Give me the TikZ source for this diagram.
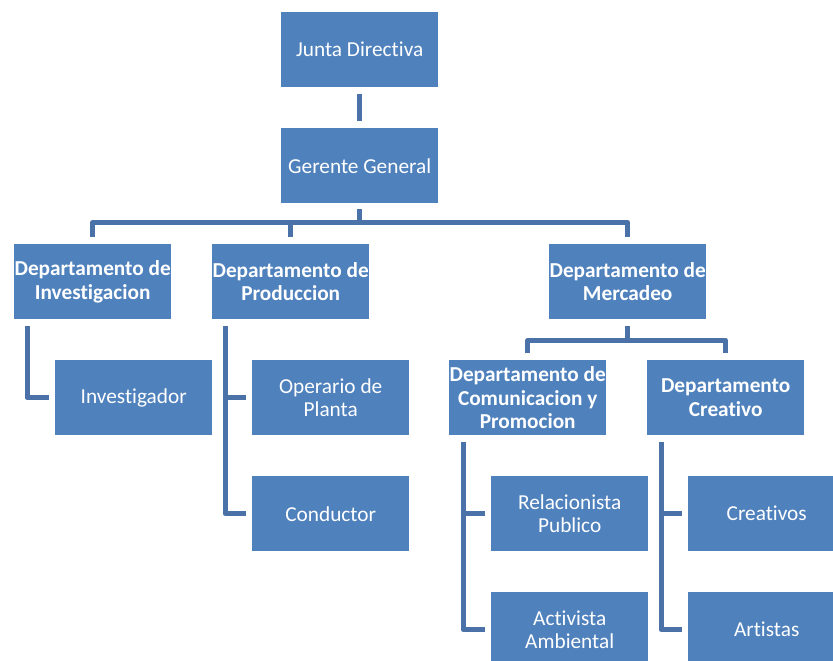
\documentclass[tikz,border=0pt]{standalone}
\usepackage{fontspec}
\setmainfont[Ligatures=NoCommon]{Carlito}
\definecolor{boxblue}{HTML}{4F81BD}
\definecolor{lineblue}{HTML}{4A72A8}
\begin{document}
\begin{tikzpicture}[x=1pt,y=-1pt,
  orgbox/.style={fill=boxblue,draw=none,text=white,minimum width=157pt,minimum height=75pt,inner sep=0pt,anchor=north west,align=center,font=\fontsize{21.3}{23.5}\selectfont},
  deptbox/.style={orgbox,font=\fontsize{21.3}{23.5}\selectfont\bfseries},
  conn/.style={draw=lineblue,line width=5pt,line join=round}]
\useasboundingbox (0,0) rectangle (833,661);
\clip (0,0) rectangle (833,661);
\node[orgbox] (jd) at (281,12) {Junta Directiva};
\node[orgbox] (gg) at (281,128) {Gerente General};
\node[deptbox] (inv) at (14,244) {Departamento de\\Investigacion};
\node[deptbox] (prod) at (212,244) {Departamento de\\Produccion};
\node[deptbox] (merc) at (549,244) {Departamento de\\Mercadeo};
\node[orgbox] (invr) at (55,360) {Investigador};
\node[orgbox] (oper) at (252,360) {Operario de\\Planta};
\node[orgbox] (cond) at (252,476) {Conductor};
\node[deptbox] (com) at (449,360) {Departamento de\\Comunicacion y\\Promocion};
\node[deptbox] (crea) at (647,360) {Departamento\\Creativo};
\node[orgbox] (rel) at (491,476) {Relacionista\\Publico};
\node[orgbox] (act) at (491,592) {Activista\\Ambiental};
\node[orgbox] (creas) at (688,476) {Creativos};
\node[orgbox] (art) at (688,592) {Artistas};
% top
\draw[conn] ([yshift=-7pt]jd.south) -- ([yshift=7pt]gg.north);
\draw[conn] ([yshift=-6pt]gg.south) -- ++(0,13) coordinate (b1);
\draw[conn] ([yshift=7pt]inv.north) |- (b1) -| ([yshift=7pt]merc.north);
\draw[conn] ([yshift=7pt]prod.north) -- (prod.north |- b1);
% investigacion
\draw[conn] ([xshift=13pt,yshift=-7pt]inv.south west) |- ([xshift=-6pt]invr.west);
% produccion
\draw[conn] ([xshift=13pt,yshift=-7pt]prod.south west) coordinate (p1) |- ([xshift=-6pt]cond.west);
\draw[conn] ([xshift=-6pt]oper.west) -- (oper.west -| p1);
% mercadeo
\draw[conn] ([yshift=-7pt]merc.south) -- ++(0,14) coordinate (b2);
\draw[conn] ([yshift=7pt]com.north) |- (b2) -| ([yshift=7pt]crea.north);
% comunicacion
\draw[conn] ([xshift=14pt,yshift=-7pt]com.south west) coordinate (c1) |- ([xshift=-6pt]act.west);
\draw[conn] ([xshift=-6pt]rel.west) -- (rel.west -| c1);
% creativo
\draw[conn] ([xshift=14pt,yshift=-7pt]crea.south west) coordinate (c2) |- ([xshift=-6pt]art.west);
\draw[conn] ([xshift=-6pt]creas.west) -- (creas.west -| c2);
\end{tikzpicture}
\end{document}
